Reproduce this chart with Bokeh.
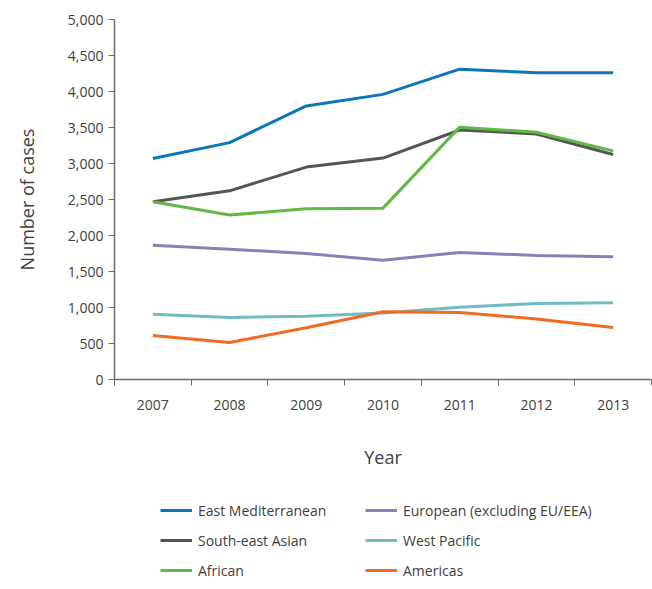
from bokeh.plotting import figure
from bokeh.layouts import column
from bokeh.models import (Range1d, FixedTicker, NumeralTickFormatter, Legend, LegendItem)
from bokeh.embed import file_html
from bokeh.resources import INLINE

years = [2007, 2008, 2009, 2010, 2011, 2012, 2013]
east_med = [3070, 3290, 3800, 3960, 4310, 4260, 4260]
se_asian = [2470, 2620, 2950, 3075, 3465, 3410, 3125]
african = [2470, 2285, 2370, 2380, 3505, 3435, 3175]
european = [1865, 1810, 1750, 1655, 1765, 1722, 1705]
west_pacific = [905, 862, 877, 925, 1005, 1055, 1065]
americas = [612, 514, 720, 940, 932, 840, 722]

series = [
    ("East Mediterranean", east_med, "#0B77B8"),
    ("European (excluding EU/EEA)", european, "#8B80B6"),
    ("South-east Asian", se_asian, "#555555"),
    ("West Pacific", west_pacific, "#6DBDC1"),
    ("African", african, "#62B846"),
    ("Americas", americas, "#F26B23"),
]
# legend fills column by column
legend_order = ["East Mediterranean", "South-east Asian", "African",
                "European (excluding EU/EEA)", "West Pacific", "Americas"]

FONT = "Open Sans"
TXT = "#404040"
AX = "#6b6b6b"

p = figure(width=652, height=480, output_backend="svg", toolbar_location=None,
           x_range=Range1d(2006.5, 2013.5), y_range=Range1d(0, 5000),
           min_border_left=114, min_border_right=1, min_border_top=19, min_border_bottom=101)
p.outline_line_color = None
p.grid.visible = False
p.background_fill_color = "white"

for name, vals, col in series:
    p.line(years, vals, line_color=col, line_width=3)

# x axis
p.xaxis.ticker = FixedTicker(ticks=years, minor_ticks=[y - 0.5 for y in years] + [2013.5])
p.xaxis.major_tick_line_color = None
p.xaxis.major_tick_out = 0
p.xaxis.major_tick_in = 0
p.xaxis.minor_tick_out = 6
p.xaxis.minor_tick_in = 0
p.xaxis.minor_tick_line_color = AX
p.xaxis.major_label_standoff = 14
p.xaxis.axis_label = "Year"
p.xaxis.axis_label_standoff = 32

# y axis
p.yaxis.ticker = FixedTicker(ticks=list(range(0, 5001, 500)), minor_ticks=[])
p.yaxis.formatter = NumeralTickFormatter(format="0,0")
p.yaxis.major_tick_out = 6
p.yaxis.major_tick_in = 0
p.yaxis.major_tick_line_color = AX
p.yaxis.major_label_standoff = 5
p.yaxis.axis_label = "Number of cases"
p.yaxis.axis_label_standoff = 26

for ax in (p.xaxis, p.yaxis):
    ax.axis_line_color = AX
    ax.axis_line_width = 1.5
    ax.major_label_text_font = FONT
    ax.major_label_text_font_size = "14px"
    ax.major_label_text_color = TXT
    ax.axis_label_text_font = FONT
    ax.axis_label_text_font_size = "18px"
    ax.axis_label_text_font_style = "normal"
    ax.axis_label_text_color = TXT

# legend panel: same series, ranges chosen so only the legend keys show
pl = figure(width=652, height=109, output_backend="svg", toolbar_location=None,
            x_range=Range1d(2006.5, 2013.5), y_range=Range1d(-2, -1),
            x_axis_type=None, y_axis_type=None,
            min_border_left=0, min_border_right=0, min_border_top=0, min_border_bottom=0)
pl.outline_line_color = None
pl.grid.visible = False
leg_renderers = {}
for name, vals, col in series:
    leg_renderers[name] = pl.line(years, vals, line_color=col, line_width=3)

items = [LegendItem(label=name, renderers=[leg_renderers[name]]) for name in legend_order]
legend = Legend(items=items, ncols=2, location=(46, 9),
                glyph_width=32, glyph_height=20, label_height=20, label_width=157,
                label_standoff=6, spacing=10, padding=0, margin=0,
                border_line_color=None, background_fill_alpha=0,
                label_text_font=FONT, label_text_font_size="14px", label_text_color=TXT)
pl.add_layout(legend, "center")

layout = column(p, pl, spacing=0)
open("out.html", "w").write(file_html(layout, INLINE))
